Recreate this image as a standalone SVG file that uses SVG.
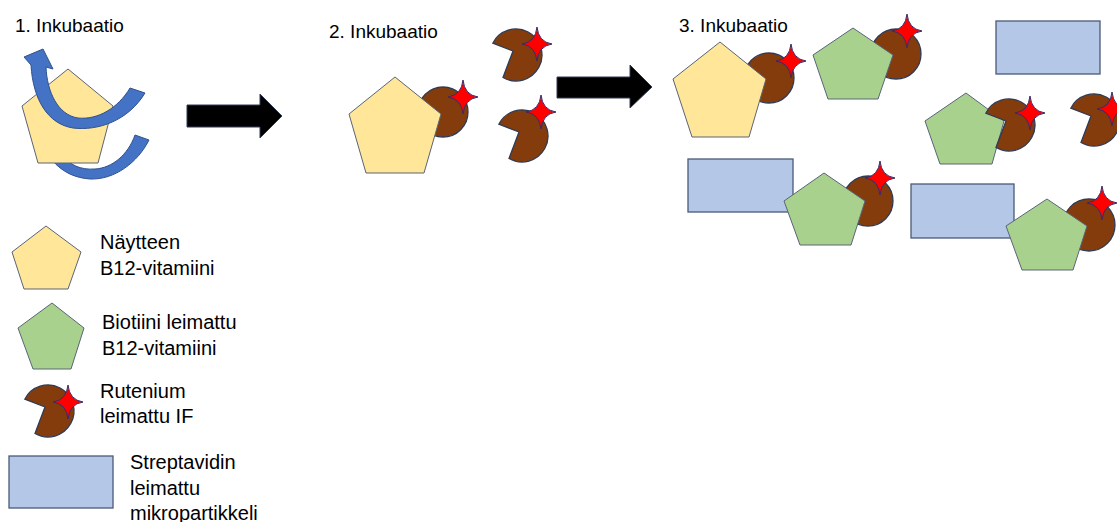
<svg xmlns="http://www.w3.org/2000/svg" xmlns:xlink="http://www.w3.org/1999/xlink" width="1117" height="522" viewBox="0 0 1117 522">
<style>
text{font-family:"Liberation Sans",Arial,sans-serif;fill:#000}
.title{font-size:19px}
.leg{font-size:20px}
.yel{fill:#FFE699;stroke:#5A6478;stroke-width:1}
.grn{fill:#A9D18E;stroke:#5A6478;stroke-width:1}
.rect{fill:#B4C7E7;stroke:#4A5A78;stroke-width:1.3}
.brown{fill:#843C0C;stroke:#2F3B55;stroke-width:1.3}
.star{fill:#FF0000;stroke:#3A2A6A;stroke-width:1}
.barrow{fill:#4472C4;stroke:#2F528F;stroke-width:1}
.blk{fill:#000;stroke:#2F3B55;stroke-width:1}
</style>
<defs>
<path id="star" d="M0,-17 Q1.5,-2 15,0 Q1.5,2 0,17 Q-1.5,2 -15,0 Q-1.5,-2 0,-17 Z"/>
<path id="pac" d="M-3,-4 L-23.2,-11.8 A26,26 0 1 1 -13,22.5 Z"/>
</defs>

<g id="step1">
<text class="title" x="15" y="32">1. Inkubaatio</text>
<path class="barrow" d="M149,140 C138,162 115,180 90,179 C75,178 62,172 52,160 L62,155 C70,165 80,170 95,169 C112,168 128,155 135,135 Z"/>
<polygon class="yel" points="68,69 113,106 98,163 38,163 22,106"/>
<path class="barrow" d="M145,93 C128,121 98,131 73,128 C48,124 33,100 31,65 L24,57 L43,49 L53,69 L46,67 C47,92 58,115 78,118 C98,120 118,108 130,88 Z"/>
</g>

<g id="connectors">
<polygon class="blk" points="187,105 260,105 260,94 282,116 260,138 260,127 187,127"/>
<polygon class="blk" points="557,77 630,77 630,65 652,87 630,108 630,98 557,98"/>
</g>

<g id="step2">
<text class="title" x="329" y="38">2. Inkubaatio</text>
<circle class="brown" cx="443" cy="112" r="25"/>
<polygon class="yel" points="395,77 441,114 424,173 366,173 349,114"/>
<use href="#star" class="star" transform="translate(463,97)"/>
</g>
<g id="free-if-1">
<use href="#pac" class="brown" transform="translate(516,55)"/>
<use href="#star" class="star" transform="translate(537,44)"/>
</g>
<g id="free-if-2">
<use href="#pac" class="brown" transform="translate(522,136)"/>
<use href="#star" class="star" transform="translate(541,112)"/>
</g>

<g id="step3">
<text class="title" x="679" y="32">3. Inkubaatio</text>
</g>
<g id="complex-yellow">
<circle class="brown" cx="769" cy="78" r="25"/>
<polygon class="yel" points="720,42 766,79 749,137 692,137 673,79"/>
<use href="#star" class="star" transform="translate(791,61)"/>
</g>
<g id="complex-green-a">
<circle class="brown" cx="896" cy="54" r="25"/>
<polygon class="grn" points="853,28 893,55 878,99 828,99 813,55"/>
<use href="#star" class="star" transform="translate(907,31)"/>
</g>
<g id="micro-a">
<rect class="rect" x="996" y="21" width="104" height="53"/>
</g>
<g id="complex-green-b">
<polygon class="grn" points="966,93 1004,121 992,164 940,164 925,121"/>
<use href="#pac" class="brown" transform="translate(1009,125)"/>
<use href="#star" class="star" transform="translate(1030,113)"/>
</g>
<g id="free-if-3">
<use href="#pac" class="brown" transform="translate(1094,120)"/>
<use href="#star" class="star" transform="translate(1112,109)"/>
</g>
<g id="complex-green-c">
<rect class="rect" x="688" y="159" width="105" height="53"/>
<circle class="brown" cx="868" cy="201" r="25"/>
<polygon class="grn" points="824,173 865,201 851,245 800,245 784,201"/>
<use href="#star" class="star" transform="translate(880,178)"/>
</g>
<g id="complex-green-d">
<rect class="rect" x="911" y="184" width="103" height="54"/>
<circle class="brown" cx="1089" cy="225" r="26"/>
<polygon class="grn" points="1047,199 1087,226 1073,270 1022,270 1006,226"/>
<use href="#star" class="star" transform="translate(1102,203)"/>
</g>

<g id="legend-yellow">
<polygon class="yel" points="46,226 81,252 68,289 24,289 12,252"/>
<text class="leg" x="100" y="249">Näytteen</text>
<text class="leg" x="100" y="275">B12-vitamiini</text>
</g>
<g id="legend-green">
<polygon class="grn" points="52,303 84,328 71,369 33,369 18,328"/>
<text class="leg" x="102" y="329">Biotiini leimattu</text>
<text class="leg" x="102" y="355">B12-vitamiini</text>
</g>
<g id="legend-if">
<use href="#pac" class="brown" transform="translate(48,411)"/>
<use href="#star" class="star" transform="translate(68,402)"/>
<text class="leg" x="100" y="398">Rutenium</text>
<text class="leg" x="100" y="423">leimattu IF</text>
</g>
<g id="legend-micro">
<rect class="rect" x="9" y="456" width="104" height="52"/>
<text class="leg" x="130" y="469">Streptavidin</text>
<text class="leg" x="130" y="495">leimattu</text>
<text class="leg" x="130" y="520">mikropartikkeli</text>
</g>
</svg>
